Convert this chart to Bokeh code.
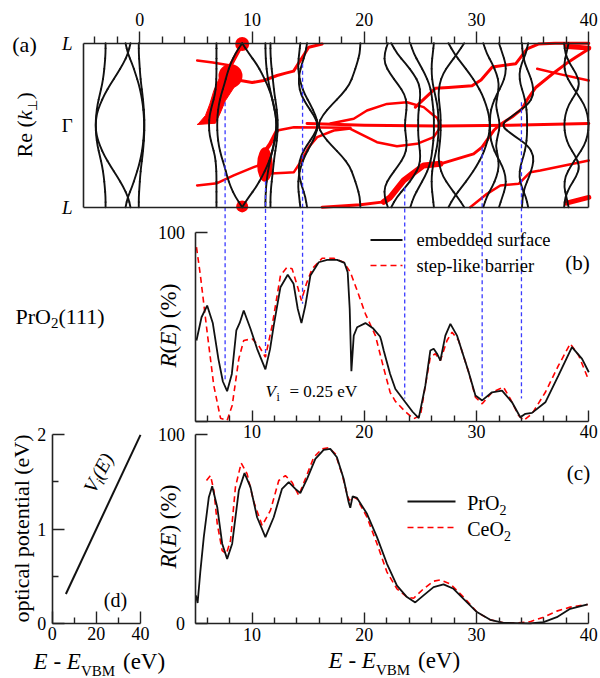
import numpy as np
from bokeh.plotting import figure
from bokeh.models import Range1d, LinearAxis, FixedTicker, Label
from bokeh.embed import file_html
from bokeh.resources import INLINE

W, H = 600, 678
FONT = "Liberation Serif"
INK = "#111111"
RED = "#ff0000"
BLUE = "#3a3aff"

# ---------------- panel (a): Re(k_perp) along L (+1) - Gamma (0) - L (-1) ----------------
k_half = [1.0, 0.875, 0.75, 0.625, 0.5, 0.375, 0.25, 0.125, 0.0]

valence_bands = [
    [-3.05, -3.05, -3.12, -3.21, -3.35, -3.56, -3.77, -3.89, -3.94],
    [-0.83, -1.04, -1.48, -2.02, -2.61, -3.14, -3.56, -3.86, -3.94],
    [-1.27, -1.07, -0.68, -0.38, -0.09, 0.12, 0.27, 0.36, 0.39],
    [-0.09, -0.09, -0.03, 0.03, 0.12, 0.24, 0.33, 0.39, 0.42],
]
low_bands = [
    [6.83, 6.83, 6.83, 6.83, 6.80, 6.70, 6.45, 6.22, 6.15],
    [9.12, 8.52, 8.08, 7.78, 7.54, 7.25, 7.04, 6.92, 6.89],
    [9.12, 9.71, 10.39, 10.90, 11.34, 11.70, 11.93, 12.11, 12.17],
    [11.19, 11.20, 11.25, 11.35, 11.50, 11.70, 11.90, 12.10, 12.20],
    [11.64, 11.64, 11.70, 11.80, 11.90, 12.00, 12.15, 12.25, 12.30],
    [14.90, 14.75, 14.45, 14.20, 14.15, 14.35, 14.85, 15.50, 15.90],
    [14.30, 14.20, 14.10, 14.15, 14.35, 14.70, 15.20, 15.65, 15.90],
    [19.65, 19.60, 19.35, 19.05, 18.70, 18.00, 17.10, 16.30, 15.85],
]
high_bands = [
    [22.1, 21.8, 21.8, 22.3, 23.0, 23.6, 23.8, 23.7, 23.6],
    [22.4, 22.9, 23.7, 24.4, 24.9, 25.0, 24.9, 24.8, 24.8],
    [24.1, 24.4, 24.9, 25.4, 25.8, 26.0, 26.1, 26.2, 26.2],
    [26.2, 26.1, 26.0, 26.0, 26.1, 26.3, 26.5, 26.6, 26.6],
    [27.5, 28.0, 28.7, 29.4, 30.0, 30.5, 30.85, 31.1, 31.2],
    [28.9, 28.3, 27.6, 27.0, 26.7, 26.6, 26.7, 26.8, 26.8],
    [30.6, 30.9, 31.4, 31.8, 32.0, 31.9, 31.7, 31.9, 32.1],
    [32.0, 32.3, 32.6, 32.6, 32.3, 31.8, 31.4, 31.2, 31.2],
    [34.05, 34.1, 34.3, 34.7, 35.0, 35.1, 34.6, 33.3, 32.1],
    [34.6, 34.4, 34.0, 33.8, 33.9, 34.2, 34.4, 34.5, 34.5],
    [37.8, 37.9, 38.3, 38.9, 39.2, 38.8, 38.2, 37.9, 37.8],
    [38.2, 38.0, 37.8, 37.9, 38.4, 39.0, 39.6, 39.9, 40.0],
]

red_E = [
    [5.11, 6.5, 8.08],
    [8.08, 8.6, 9.12],
    [8.97, 10.0, 11.04, 12.23, 13.0, 13.7, 14.31, 15.05, 16.24],
    [5.11, 6.89, 8.37, 10.15, 11.04],
    [11.04, 11.64, 13.0, 13.73, 14.31, 15.05, 15.8, 17.28, 18.76],
    [12.23, 13.73, 18.76],
    [10.8, 11.6, 12.23],
    [14.9, 20.0, 26.6, 33.0, 40.0],
    [16.98, 19.06, 20.24, 22.02, 23.8, 25.29, 26.18, 26.48, 26.8],
    [18.76, 19.65, 21.13, 22.91, 24.69, 26.18, 26.8],
    [16.24, 19.65, 21.73],
    [21.73, 22.32, 23.51, 25.29, 26.78],
    [26.78, 29.74, 30.49, 31.53, 32.0, 33.16, 34.05, 34.65, 35.3, 36.78, 37.96, 38.84, 40.0],
    [24.55, 26.33, 27.5, 29.6, 30.4, 31.4, 33.5, 34.5, 35.5, 37.0, 40.0],
    [29.44, 30.93, 32.12, 33.75, 34.79, 35.68, 40.0],
    [35.4, 37.5, 40.0],
    [38.06, 40.0],
    [38.0, 40.0],
]
red_k = [
    [0.789, 0.765, 0.728],
    [0.728, 0.86, 0.99],
    [0.545, 0.52, 0.545, 0.606, 0.635, 0.66, 0.79, 0.95, 0.99],
    [-0.735, -0.707, -0.613, -0.512, -0.47],
    [-0.47, -0.59, -0.58, -0.573, -0.451, -0.268, -0.146, -0.065, -0.04],
    [-0.065, -0.025, -0.03],
    [-0.39, -0.23, -0.065],
    [0.02, 0.0, -0.01, 0.0, 0.02],
    [0.02, 0.078, 0.179, 0.26, 0.28, 0.22, 0.118, 0.09, 0.0],
    [-0.044, -0.105, -0.207, -0.256, -0.227, -0.146, -0.02],
    [-1.0, -0.97, -0.935],
    [-0.935, -0.878, -0.674, -0.491, -0.471],
    [-0.471, -0.349, -0.268, -0.065, 0.0, 0.1, 0.2, 0.34, 0.463, 0.627, 0.748, 0.829, 0.93],
    [0.22, 0.45, 0.46, 0.48, 0.55, 0.71, 0.75, 0.93, 0.99, 1.0, 1.0],
    [-1.0, -0.837, -0.735, -0.715, -0.573, -0.553, -0.43],
    [0.688, 0.62, 0.545],
    [0.96, 0.94],
    [-0.95, -0.88],
]
red_w = [2.5, 4, 3, 2.5, 2.5, 2.5, 4, 3, 2.5, 2.5, 3, 6, 3, 3, 2.5, 2.5, 5, 5]

red_dot_E = [9.12, 9.12, 8.08]
red_dot_k = [0.99, -0.99, 0.60]
red_dot_d = [14, 12, 24]
tear_E = [7.19, 6.6, 6.24, 5.85, 5.26, 5.11, 6.74, 7.13, 7.63, 8.37, 8.97]
tear_k = [0.606, 0.423, 0.26, 0.118, 0.024, 0.008, 0.024, 0.138, 0.301, 0.456, 0.545]
blob_E, blob_k = [11.15], [-0.48]

# blue guide lines from (a) down to (b)
guide_E = [7.6, 11.2, 14.5, 23.6, 30.5, 34.0]
guide_k0 = [0.28, -0.68, 0.75, -0.76, -0.27, 0.28]
guide_R1 = [21.5, 33.9, 62.1, 12.0, 12.0, 12.0]

# ---------------- panel (b): R(E) for PrO2(111), V_i = 0.25 eV ----------------
b_emb_E = [5.05, 5.5, 6.0, 6.5, 7.0, 7.4, 7.78, 8.2, 8.6, 8.9, 9.26, 9.86, 10.45, 11.19, 11.6,
           11.93, 12.53, 13.18, 13.7, 14.07, 14.4, 14.75, 15.2, 15.94, 16.69, 17.58, 18.23, 18.52,
           18.7, 18.85, 19.06, 19.36, 20.1, 20.8, 21.4, 21.5, 21.73, 22.3, 22.77, 23.66, 24.3,
           24.85, 25.44, 25.88, 26.18, 26.5, 26.78, 27.22, 27.67, 28.26, 29.3, 29.9, 30.5, 31.38,
           32.27, 33.16, 33.9, 34.35, 34.94, 36.13, 37.3, 38.5, 39.4, 40.0]
b_emb_R = [42.7, 55.0, 61.2, 52.0, 33.0, 21.0, 15.9, 25.0, 48.0, 52.0, 58.6, 48.9, 38.3, 27.4, 38.0,
           50.6, 70.9, 77.5, 72.7, 59.5, 51.9, 61.2, 77.1, 84.1, 85.4, 85.4, 83.8, 78.8,
           59.5, 26.5, 45.3, 49.7, 51.9, 49.0, 44.8, 43.0, 37.4, 25.0, 17.0, 10.0, 5.0,
           1.6, 18.9, 37.4, 38.3, 35.5, 32.1, 45.3, 51.5, 45.3, 25.9, 13.6, 11.0, 15.3,
           16.2, 10.0, 2.1, 3.9, 4.4, 10.0, 24.2, 39.2, 33.0, 25.9]
b_step_E = [5.05, 5.4, 6.0, 6.59, 7.19, 7.78, 8.23, 8.82, 9.26, 10.0, 10.6, 11.19, 11.79, 12.53,
            13.12, 13.57, 14.07, 14.4, 14.84, 15.35, 16.24, 17.28, 18.17, 18.76, 19.36, 20.1,
            20.99, 21.73, 22.3, 22.77, 23.66, 24.4, 25.0, 25.44, 25.88, 26.33, 26.78, 27.37,
            27.82, 28.4, 29.3, 29.9, 30.5, 31.38, 32.4, 33.0, 33.75, 34.2, 34.94, 36.13, 37.3,
            38.35, 39.1, 40.0]
b_step_R = [92.1, 77.1, 47.1, 18.9, 1.6, 0.4, 8.3, 33.0, 42.7, 43.6, 40.0, 33.9, 50.6, 77.1,
            81.5, 80.6, 70.9, 63.9, 72.7, 80.6, 86.2, 86.2, 84.1, 78.8, 69.2, 56.8,
            45.3, 28.0, 15.3, 10.5, 5.0, 1.3, 3.0, 18.9, 33.9, 35.7, 32.1, 42.7,
            47.1, 42.7, 25.9, 12.7, 9.2, 15.3, 18.0, 11.9, 3.0, 0.4, 3.9, 15.3, 29.5,
            41.0, 34.8, 21.5]

# ---------------- panel (c): PrO2 vs CeO2 ----------------
c_pr_E = [5.0, 5.15, 5.4, 5.7, 6.15, 6.45, 6.9, 7.34, 7.78, 8.23, 8.82, 9.33, 9.86, 10.45, 11.19,
          11.93, 12.67, 13.27, 13.86, 14.3, 14.9, 15.64, 16.38, 16.97, 17.56, 18.16, 18.6, 18.75,
          18.96, 19.35, 20.24, 21.13, 22.02, 22.91, 23.8, 24.54, 25.28, 26.17, 27.06, 27.95, 28.84,
          30.03, 31.22, 32.4, 33.59, 34.78, 35.97, 37.15, 38.34, 39.9]
c_pr_R = [15.0, 11.0, 28.0, 45.8, 66.9, 72.7, 61.6, 42.3, 34.3, 42.3, 70.4, 79.6, 72.2, 56.3, 45.8,
          56.3, 71.3, 74.8, 71.3, 69.0, 76.6, 87.1, 91.9, 92.4, 88.0, 76.6, 64.3, 61.3,
          67.3, 66.5, 58.1, 45.8, 31.7, 20.2, 14.1, 11.3, 15.0, 19.4, 20.8, 18.5, 13.2,
          6.2, 2.1, 0.5, 0.4, 0.2, 0.9, 3.5, 7.9, 10.2]
c_ce_E = [5.94, 6.3, 6.6, 6.9, 7.34, 7.72, 8.08, 8.52, 9.03, 9.56, 10.16, 10.9, 11.64, 12.38, 12.97,
          13.56, 14.16, 14.75, 15.5, 16.24, 16.83, 17.42, 18.01, 18.46, 18.66, 18.9, 19.35, 20.24,
          21.13, 22.02, 22.91, 23.8, 24.4, 25.28, 26.17, 26.76, 27.65, 28.84, 30.03, 31.22, 32.4,
          33.59, 34.78, 35.97, 37.15, 38.34, 39.9]
c_ce_R = [75.7, 78.3, 70.4, 52.8, 38.7, 37.0, 44.0, 72.2, 84.9, 79.2, 64.3, 51.9, 59.9, 75.7, 78.3,
          74.8, 67.8, 76.6, 88.0, 92.4, 93.0, 89.8, 79.2, 68.7, 65.1, 67.3, 66.0, 56.3,
          42.3, 27.3, 18.5, 14.1, 13.5, 18.5, 22.5, 23.2, 21.1, 14.1, 6.2, 2.1, 0.5,
          0.4, 1.1, 3.5, 6.7, 8.8, 10.2]

# ---------------- panel (d): optical potential ----------------
d_E = [6.2, 40.0]
d_V = [0.31, 2.0]

# ---------------- layout anchors (pixels) ----------------
X0, X40 = 139.3, 588.3
A_TOP, A_BOT = 42.7, 206.7
B_100, B_0 = 231.7, 420.7
C_100, C_0 = 434.0, 623.3
D_2, D_0 = 434.3, 622.7
DX0, DX40 = 51.7, 140.0
TICK_FONT = "18px"


def lin_range(v0, p0, v1, p1, pa, pb):
    s = (p1 - p0) / (v1 - v0)
    return Range1d(v0 + (pa - p0) / s, v0 + (pb - p0) / s)


p = figure(width=W, height=H, x_range=lin_range(0, X0, 40, X40, 0, W), y_range=Range1d(H, 0),
           output_backend="svg", toolbar_location=None, x_axis_type=None, y_axis_type=None,
           min_border=0, outline_line_color=None, background_fill_color="white",
           border_fill_color="white")
p.title.visible = False
p.extra_x_ranges = {"px": Range1d(0, W), "xd": lin_range(0, DX0, 40, DX40, 0, W)}
p.extra_y_ranges = {
    "ka": lin_range(1, A_TOP, -1, A_BOT, H, 0),
    "rb": lin_range(100, B_100, 0, B_0, H, 0),
    "rc": lin_range(100, C_100, 0, C_0, H, 0),
    "vd": lin_range(2, D_2, 0, D_0, H, 0),
}


def axis(side, loc, bounds, major, minor=(), xr="default", yr="default", tin=0, tout=0,
         mtin=0, mtout=0, labels=None, style="normal", size=TICK_FONT, standoff=5, line=True):
    ax = LinearAxis(x_range_name=xr, y_range_name=yr, fixed_location=loc, bounds=bounds,
                    ticker=FixedTicker(ticks=list(major), minor_ticks=list(minor)))
    ax.major_tick_in, ax.major_tick_out = tin, tout
    ax.minor_tick_in, ax.minor_tick_out = mtin, mtout
    ax.axis_line_color = "#222222" if line else None
    ax.axis_line_width = 1.6
    ax.major_tick_line_color = "#222222"
    ax.minor_tick_line_color = "#222222"
    ax.major_tick_line_width = 1.4
    ax.minor_tick_line_width = 1.4
    ax.major_label_text_font = FONT
    ax.major_label_text_font_size = size
    ax.major_label_text_font_style = style
    ax.major_label_text_color = "black"
    ax.major_label_standoff = standoff
    if labels is not None:
        ax.major_label_overrides = labels
    p.add_layout(ax, side)
    return ax


minor_ticks = [t for t in range(-4, 40, 2) if t % 10 != 0]
minor_bc = [t for t in range(6, 40, 2) if t % 10 != 0]

# frame of (a)
axis("above", 1, (-5, 40), [0, 10, 20, 30, 40], minor_ticks, yr="ka", tout=12, mtout=7, standoff=5)
axis("left", -5, (-1, 1), [-1, 1], yr="ka", labels={-1: "L", 1: "L"}, style="italic",
     size="19px", standoff=11)
axis("left", -5, (-1, 1), [0], yr="ka", labels={0: "Γ"}, size="19px", standoff=11, line=False)
axis("right", 40, (-1, 1), [], yr="ka")
axis("below", -1, (-5, 40), [], yr="ka")
# (b)
axis("left", 5, (0, 100), [0, 100], yr="rb", tin=12, labels={0: ""}, standoff=11)
axis("below", 0, (5, 40), [10, 20, 30, 40], minor_bc, yr="rb", tin=11, mtin=6, standoff=4)
# (c)
axis("left", 5, (0, 100), [0, 100], yr="rc", tin=12, standoff=11)
axis("below", 0, (5, 40), [10, 20, 30, 40], minor_bc, yr="rc", tin=11, mtin=6, standoff=4)
# (d)
axis("left", 0, (0, 2), [0, 1, 2], [0.5, 1.5], xr="xd", yr="vd", tin=12, mtin=6, standoff=6)
axis("below", 0, (0, 40), [0, 20, 40], [10, 30], xr="xd", yr="vd", tin=12, mtin=6, standoff=4)


def mirror(vals):
    return list(vals) + list(reversed(vals[:-1]))


k_full = list(k_half) + [-k for k in reversed(k_half[:-1])]


def smooth_pieces(xs, ys):
    """Quadratic Bezier pieces through the midpoints, with the data points as control points."""
    n = len(xs)
    mx = [(xs[i] + xs[i + 1]) / 2 for i in range(n - 1)]
    my = [(ys[i] + ys[i + 1]) / 2 for i in range(n - 1)]
    x0 = [xs[0]] + mx[:-1] + [mx[-1]]
    y0 = [ys[0]] + my[:-1] + [my[-1]]
    x1 = [mx[0]] + mx[1:] + [xs[-1]]
    y1 = [my[0]] + my[1:] + [ys[-1]]
    cx = [(xs[0] + mx[0]) / 2] + xs[1:-1] + [(mx[-1] + xs[-1]) / 2]
    cy = [(ys[0] + my[0]) / 2] + ys[1:-1] + [(my[-1] + ys[-1]) / 2]
    return x0, y0, x1, y1, cx, cy


# ---- panel (a) red features
p.patch(tear_E, tear_k, y_range_name="ka", color=RED, line_width=1)
p.scatter(red_dot_E, red_dot_k, size=red_dot_d, y_range_name="ka", color=RED, line_color=None)
p.ellipse(blob_E, blob_k, width=1.4, height=0.42, y_range_name="ka", color=RED, line_color=None)
for xs, ys, w in zip(red_E, red_k, red_w):
    p.line(xs, ys, y_range_name="ka", color=RED, line_width=w, line_cap="round", line_join="round")

# ---- panel (a) black bands (smooth)
qx0, qy0, qx1, qy1, qcx, qcy = [], [], [], [], [], []
for group in (valence_bands, low_bands, high_bands):
    for band in group:
        pieces = smooth_pieces(mirror(band), k_full)
        for acc, part in zip((qx0, qy0, qx1, qy1, qcx, qcy), pieces):
            acc.extend(part)
p.quadratic(x0=qx0, y0=qy0, x1=qx1, y1=qy1, cx=qcx, cy=qcy, y_range_name="ka",
            line_color=INK, line_width=1.9, line_cap="round")


# ---- blue guide lines crossing from (a) into (b)
def ka_of_pixel(py):
    return 1 + (py - A_TOP) * (-2.0) / (A_BOT - A_TOP)


def pixel_of_rb(r):
    return B_0 + (B_100 - B_0) * r / 100.0


guide_k1 = [ka_of_pixel(pixel_of_rb(r)) for r in guide_R1]
p.segment(guide_E, guide_k0, guide_E, guide_k1, y_range_name="ka", color=BLUE,
          line_width=1.3, line_dash="4 3")

# ---- panel (b)
p.line(b_step_E, b_step_R, y_range_name="rb", color=RED, line_width=1.6, line_dash="6 4")
p.line(b_emb_E, b_emb_R, y_range_name="rb", color=INK, line_width=1.8)

# ---- panel (c)
p.line(c_ce_E, c_ce_R, y_range_name="rc", color=RED, line_width=1.6, line_dash="6 4")
p.line(c_pr_E, c_pr_R, y_range_name="rc", color=INK, line_width=1.8)

# ---- panel (d)
p.line(d_E, d_V, x_range_name="xd", y_range_name="vd", color=INK, line_width=2)

# ---- legends (line samples)
p.line([370, 402], [239.5, 239.5], x_range_name="px", color=INK, line_width=1.8)
p.line([370, 402], [265, 265], x_range_name="px", color=RED, line_width=1.6, line_dash="6 4")
p.line([407, 455], [501, 501], x_range_name="px", color=INK, line_width=1.8)
p.line([407, 455], [527, 527], x_range_name="px", color=RED, line_width=1.6, line_dash="6 4")


def txt(x, y, s, size, style="normal", align="left", angle=0.0, base="alphabetic"):
    # (x, y) is the baseline point; it is shifted to the text middle for steady placement
    if base == "alphabetic":
        off = 0.34 * size
        x, y = x - np.sin(angle) * off, y - np.cos(angle) * off
    p.add_layout(Label(x=x, y=y, x_range_name="px", text=s, text_font=FONT,
                       text_font_size=f"{size}px", text_font_style=style, text_align=align,
                       text_baseline="middle", angle=angle, text_color="black"))


R90 = np.pi / 2
# panel letters
txt(24, 44, "(a)", 22, align="center", base="middle")
txt(577, 262, "(b)", 21, align="center", base="middle")
txt(578, 472, "(c)", 21, align="center", base="middle")
txt(115, 599, "(d)", 20, align="center", base="middle")

# Re(k_perp)
txt(31, 157, "Re (", 22, angle=R90)
txt(31, 119.7, "k", 22, style="italic", angle=R90)
txt(36, 110, "⊥", 13, angle=R90)
txt(31, 99, ")", 22, angle=R90)

# PrO2(111)
txt(15, 323, "PrO", 22)
txt(50.5, 328, "2", 15)
txt(58, 323, "(111)", 22)

# V_i = 0.25 eV
txt(265, 396.7, "V", 17, style="italic")
txt(276, 400.5, "i", 12)
txt(289, 396.7, "= 0.25 eV", 17)

# legend texts
txt(416, 239.5, "embedded surface", 18.5, base="middle")
txt(416, 265, "step-like barrier", 18.5, base="middle")
txt(466.7, 509, "PrO", 20)
txt(499, 514, "2", 14)
txt(466.7, 535, "CeO", 20)
txt(503.4, 540, "2", 14)

# y labels R(E) (%)
for y0 in (367, 568):
    txt(176, y0, "R", 23, style="italic", angle=R90)
    txt(176, y0 - 14.1, "(", 23, angle=R90)
    txt(176, y0 - 21.8, "E", 23, style="italic", angle=R90)
    txt(176, y0 - 35.9, ") (%)", 23, angle=R90)

# optical potential label
txt(28, 528, "optical potential (eV)", 22, align="center", angle=R90)

# V_i(E) along the line in (d)
ang = np.deg2rad(62)
ux, uy = np.cos(ang), -np.sin(ang)
dx, dy = np.sin(ang), np.cos(ang)
ax0, ay0 = 94, 494
txt(ax0, ay0, "V", 20, style="italic", angle=ang)
txt(ax0 + 12.2 * ux + 4 * dx, ay0 + 12.2 * uy + 4 * dy, "i", 14, style="italic", angle=ang)
txt(ax0 + 16.1 * ux, ay0 + 16.1 * uy, "(E)", 20, style="italic", angle=ang)

# x labels E - E_VBM (eV)
for x0, yb in ((33, 669), (328, 668)):
    txt(x0, yb, "E", 23, style="italic")
    txt(x0 + 19.9, yb, "-", 23)
    txt(x0 + 33.3, yb, "E", 23, style="italic")
    txt(x0 + 47.4, yb + 7, "VBM", 15)
    txt(x0 + 89.5, yb, "(eV)", 23)

open("out.html", "w").write(file_html(p, INLINE))
